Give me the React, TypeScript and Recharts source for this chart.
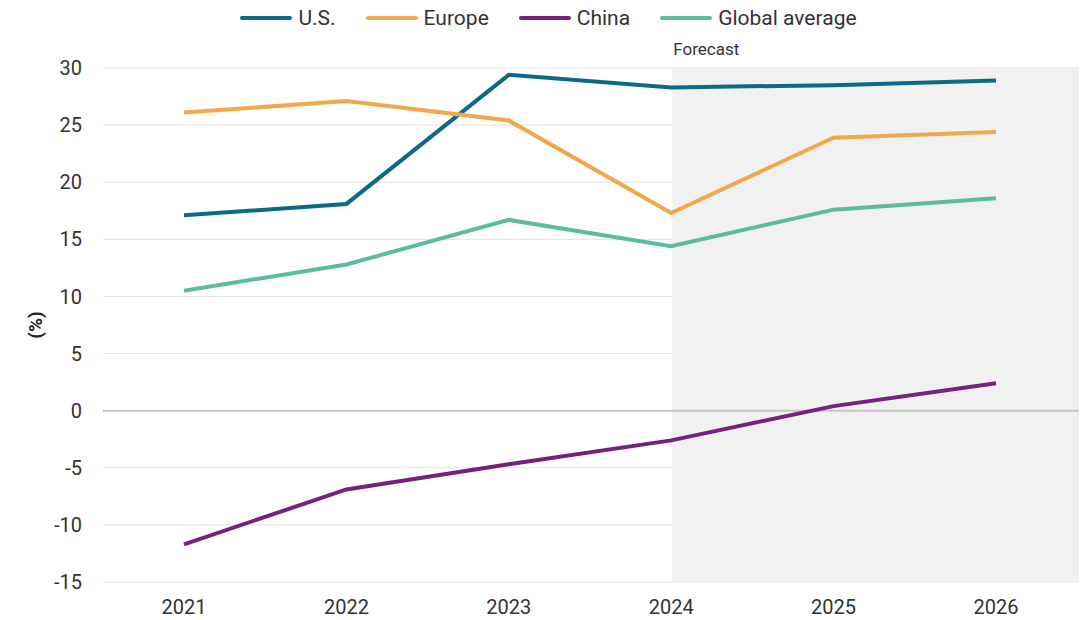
import React from 'react';
import {
  LineChart,
  Line,
  XAxis,
  YAxis,
  CartesianGrid,
  Legend,
  ReferenceArea,
  ReferenceLine,
} from 'recharts';

const years = ['2021', '2022', '2023', '2024', '2025', '2026'];
const us = [17.1, 18.1, 29.4, 28.3, 28.5, 28.9];
const europe = [26.1, 27.1, 25.4, 17.3, 23.9, 24.4];
const china = [-11.7, -6.9, -4.7, -2.6, 0.4, 2.4];
const globalAvg = [10.5, 12.8, 16.7, 14.4, 17.6, 18.6];
const yTicks = [-15, -10, -5, 0, 5, 10, 15, 20, 25, 30];
const forecastStart = 3; // index of 2024

const series = [
  { key: 'us', name: 'U.S.', color: '#0b6b84' },
  { key: 'europe', name: 'Europe', color: '#f1a84a' },
  { key: 'china', name: 'China', color: '#77217e' },
  { key: 'global', name: 'Global average', color: '#5cbc9d' },
];

const data = years.map((year, i) => ({
  year,
  idx: i,
  us: us[i],
  europe: europe[i],
  china: china[i],
  global: globalAvg[i],
}));

const FONT = 'Roboto, "Noto Sans", sans-serif';

const LegendContent = () => (
  <div
    style={{
      display: 'flex',
      justifyContent: 'center',
      alignItems: 'center',
      height: 36,
      gap: 30,
      fontFamily: FONT,
      fontSize: 21,
      color: '#333',
      paddingLeft: 18,
    }}
  >
    {series.map((s) => (
      <div key={s.key} style={{ display: 'flex', alignItems: 'center' }}>
        <span
          style={{
            display: 'inline-block',
            width: 52,
            height: 4,
            borderRadius: 2,
            background: s.color,
            marginRight: 6,
          }}
        />
        <span>{s.name}</span>
      </div>
    ))}
  </div>
);

const ForecastLabel = (props: any) => {
  const { viewBox } = props;
  return (
    <text
      x={viewBox.x + 1}
      y={viewBox.y - 13}
      fontFamily={FONT}
      fontSize={17}
      fill="#333"
    >
      Forecast
    </text>
  );
};

export default function App() {
  return (
    <div style={{ position: 'absolute', left: 0, top: 0, width: 1083, height: 620 }}>
      <LineChart
        width={1083}
        height={620}
        data={data}
        margin={{ top: 32, right: 4, bottom: 0, left: 0 }}
      >
        <Legend
          verticalAlign="top"
          height={36}
          wrapperStyle={{ top: 0 }}
          content={<LegendContent />}
        />
        <ReferenceArea
          xAxisId="num"
          x1={forecastStart}
          x2={5.5}
          y1={-15}
          y2={30}
          fill="#f1f1f1"
          fillOpacity={1}
          stroke="none"
          label={<ForecastLabel />}
        />
        <CartesianGrid vertical={false} stroke="#e2e2e2" />
        <ReferenceLine y={0} stroke="#c6c6c6" strokeWidth={2} />
        <XAxis
          dataKey="year"
          axisLine={false}
          tickLine={false}
          height={38}
          tickMargin={12}
          padding={{ left: 81, right: 83 }}
          tick={{ fontFamily: FONT, fontSize: 20, fill: '#333' }}
        />
        <XAxis xAxisId="num" type="number" dataKey="idx" domain={[-0.5, 5.5]} hide />
        <YAxis
          domain={[-15, 30]}
          ticks={yTicks}
          axisLine={false}
          tickLine={false}
          width={103}
          tickMargin={15}
          tick={{ fontFamily: FONT, fontSize: 20, fill: '#333' }}
          label={{
            value: '(%)',
            angle: -90,
            position: 'center',
            dx: -16,
            style: { fontFamily: FONT, fontSize: 19, fontWeight: 700, fill: '#222' },
          }}
        />
        {series.map((s) => (
          <Line
            key={s.key}
            type="linear"
            dataKey={s.key}
            name={s.name}
            stroke={s.color}
            strokeWidth={4}
            dot={false}
            activeDot={false}
            isAnimationActive={false}
          />
        ))}
      </LineChart>
    </div>
  );
}
